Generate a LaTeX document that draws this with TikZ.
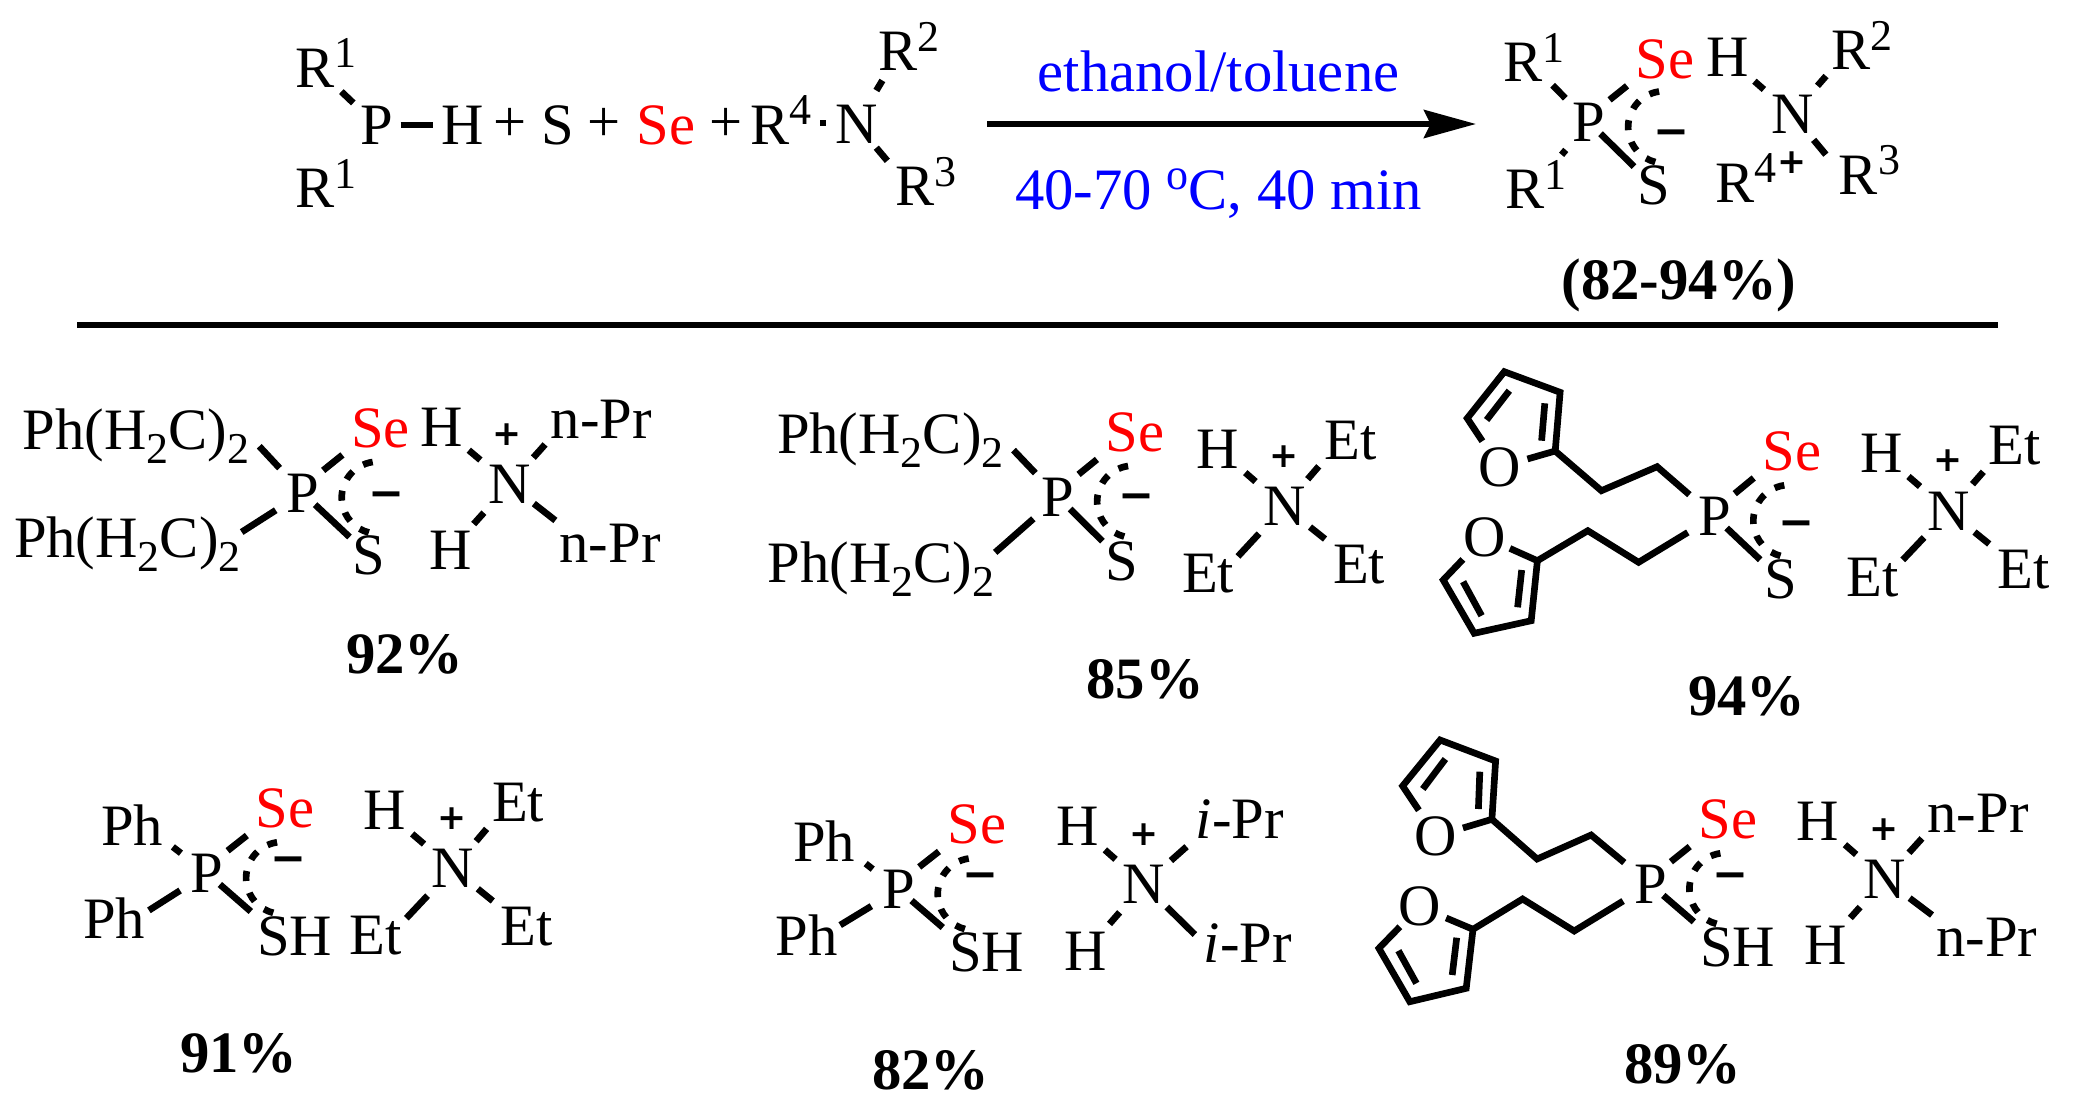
\documentclass[tikz,border=0pt]{standalone}
\usepackage{fontspec}
\setmainfont{Liberation Serif}
\newfontfamily\chgfont{DejaVu Sans}
\newfontfamily\minusfont{Noto Sans}
\usetikzlibrary{arrows.meta}

\newcommand{\upidx}[1]{\raisebox{14.5pt}{\fontsize{33}{33}\selectfont #1}}
\newcommand{\lowidx}[1]{\raisebox{-10.5pt}{\fontsize{33}{33}\selectfont #1}}
\newcommand{\chaina}{Ph(H\lowidx{2}C)\lowidx{2}}

\tikzset{
    atom/.style={inner sep=0pt, font=\fontsize{44}{44}\selectfont},
    selen/.style={atom, text=red},
    cond/.style={atom, text=blue, anchor=base},
    yieldlbl/.style={inner sep=0pt, font=\fontsize{44}{44}\selectfont\bfseries},
    chplus/.style={inner sep=0pt, font=\chgfont\bfseries\fontsize{26}{26}\selectfont},
    chminus/.style={inner sep=0pt, anchor=base, font=\minusfont\bfseries\fontsize{48}{48}\selectfont},
    bond/.style 2 args={line width=5pt, line join=miter, shorten <=#1*0.75pt, shorten >=#2*0.75pt},
    dblin/.style={line width=5pt},
    delo/.style={line width=5pt, dash pattern=on 7.5pt off 9.2pt},
    deloarc/.style={start angle=-98, end angle=-256, radius=36},
    rxn/.style={line width=4.5pt, -{Stealth[length=39pt,width=21pt,inset=5pt]}},
    sepline/.style={line width=4.5pt}
}

\begin{document}
\begin{tikzpicture}[x=0.75pt,y=0.75pt,yscale=-1,xscale=1]
    \useasboundingbox (0,0) rectangle (2078,1111);

    % Reactants
    \node [atom] (Raa) at (326.1,63) {R\upidx{1}};
    \node [atom] (Rab) at (326.1,183.5) {R\upidx{1}};
    \node [atom] (Pr) at (376.5,125) {P};
    \node [atom] (Hr) at (463,125) {H};
    \node [atom] (plusa) at (509.8,125) {+};
    \node [atom] (Sr) at (558.1,125) {S};
    \node [atom] (plusb) at (604.5,125) {+};
    \node [selen] (Ser) at (666.2,125) {Se};
    \node [atom] (plusc) at (726,125) {+};
    \node [atom] (Rfr) at (780.8,120) {R\upidx{4}};
    \node [fill=black, inner sep=0pt, minimum size=4.5pt] (dotr) at (822.7,123) {};
    \node [atom] (Nr) at (856.3,124) {N};
    \node [atom] (Rtr) at (908.6,46.5) {R\upidx{2}};
    \node [atom] (Rcr) at (925.9,181.2) {R\upidx{3}};
    %Straight Lines
    \draw [bond={6}{32}] (Raa.-66) -- (Pr.center);
    \draw [bond={24}{30}] (Pr.center) -- (Hr.center);
    \draw [bond={39}{11}] (Nr.center) -- (Rtr.-130);
    \draw [bond={31}{12}] (Nr.center) -- (Rcr.160);

    % Reaction arrow
    \coordinate (arrowL) at (987,124);
    \coordinate (arrowR) at (1476,124);
    \draw [rxn] (arrowL) -- (arrowR);
    \node [cond] (solvent) at (1218.5,91) {ethanol/toluene};
    \node [cond] (temp) at (1218.5,209) {40-70 \upidx{o}C, 40 min};

    % Product
    \node [atom] (Raz) at (1533.9,57.2) {R\upidx{1}};
    \node [atom] (Rbz) at (1536.3,184.5) {R\upidx{1}};
    \node [atom] (Pz) at (1589.1,122.5) {P};
    \node [selen] (Sez) at (1665.2,59) {Se};
    \node [atom] (Sz) at (1653.3,185.5) {S};
    \node [chminus] (minz) at (1671.1,149) {\textendash};
    \node [atom] (Hz) at (1727.3,57.5) {H};
    \node [atom] (Nz) at (1792.5,114.5) {N};
    \node [atom] (Rtz) at (1862.1,45.5) {R\upidx{2}};
    \node [atom] (Rcz) at (1869.5,170) {R\upidx{3}};
    \node [atom] (Rfz) at (1746.1,178) {R\upidx{4}};
    \node [chplus] (plusz) at (1792.5,163) {+};
    \node [yieldlbl] (yieldz) at (1679,285) {(82-94\%)};
    %Straight Lines
    \draw [bond={5}{34}] (Raz.-58) -- (Pz.center);
    \draw [bond={36}{39}] (Pz.center) -- (Rbz.center);
    \draw [bond={5}{11}] (Pz.north east) -- (Sez.south west);
    \draw [bond={16}{27}] (Pz.center) -- (Sz.center);
    \draw [delo] ([shift={(70,-31)}]Pz.center) arc [deloarc];
    \draw [bond={36}{38}] (Hz.center) -- (Nz.center);
    \draw [bond={38}{8}] (Nz.center) -- (Rtz.south west);
    \draw [bond={33}{20}] (Nz.center) -- (Rcz.west);

    % Separator
    \coordinate (ruleL) at (77,325);
    \coordinate (ruleR) at (1998,325);
    \draw [sepline] (ruleL) -- (ruleR);

    % 92%
    \node [atom] (Lab) at (136.2,436) {\chaina};
    \node [atom] (Lbb) at (127.3,544.5) {\chaina};
    \node [atom] (Pb) at (302.7,493) {P};
    \node [selen] (Seb) at (380.6,428) {Se};
    \node [atom] (Sb) at (369.2,555.5) {S};
    \node [chminus] (minb) at (386,511) {\textendash};
    \node [atom] (Hab) at (441.3,427) {H};
    \node [atom] (Hbb) at (450.2,550) {H};
    \node [chplus] (plusb2) at (507.4,435) {+};
    \node [atom] (Nb) at (509.4,484.5) {N};
    \node [atom] (Tab) at (601.2,419) {n-Pr};
    \node [atom] (Tbb) at (610.1,543) {n-Pr};
    \node [yieldlbl] (yieldb) at (404.8,654) {92\%};
    %Straight Lines
    \draw [bond={14}{34}] (Lab.east) -- (Pb.center);
    \draw [bond={1}{32}] (Lbb.6) -- (Pb.center);
    \draw [bond={5}{11}] (Pb.north east) -- (Seb.south west);
    \draw [bond={17}{27}] (Pb.center) -- (Sb.center);
    \draw [delo] ([shift={(70,-31)}]Pb.center) arc [deloarc];
    \draw [bond={36}{38}] (Hab.center) -- (Nb.center);
    \draw [bond={36}{8}] (Nb.center) -- (Tab.south west);
    \draw [bond={38}{35}] (Nb.center) -- (Hbb.center);
    \draw [bond={31}{5}] (Nb.center) -- (Tbb.north west);

    % 85%
    \node [atom] (Lac) at (890.3,440) {\chaina};
    \node [atom] (Lbc) at (880.9,569) {\chaina};
    \node [atom] (Pc) at (1058.1,497) {P};
    \node [selen] (Sec) at (1135.1,432.5) {Se};
    \node [atom] (Sc) at (1122.3,561) {S};
    \node [chminus] (minc) at (1136.6,513) {\textendash};
    \node [atom] (Hc) at (1218.1,449) {H};
    \node [chplus] (plusc2) at (1283.7,457) {+};
    \node [atom] (Nc) at (1284.2,506.5) {N};
    \node [atom] (Eac) at (1350.3,440.5) {Et};
    \node [atom] (Ebc) at (1208.2,573.5) {Et};
    \node [atom] (Ecc) at (1359.2,565) {Et};
    \node [yieldlbl] (yieldc) at (1145,679) {85\%};
    %Straight Lines
    \draw [bond={14}{33}] (Lac.east) -- (Pc.center);
    \draw [bond={1}{33}] (Lbc.8) -- (Pc.center);
    \draw [bond={5}{11}] (Pc.north east) -- (Sec.south west);
    \draw [bond={17}{28}] (Pc.center) -- (Sc.center);
    \draw [delo] ([shift={(70,-31)}]Pc.center) arc [deloarc];
    \draw [bond={36}{38}] (Hc.center) -- (Nc.center);
    \draw [bond={36}{8}] (Nc.center) -- (Eac.south west);
    \draw [bond={37}{5}] (Nc.center) -- (Ebc.27);
    \draw [bond={33}{10}] (Nc.center) -- (Ecc.north west);

    % 94%
    \node [atom] (Oad) at (1499.6,467) {O};
    \node [atom] (Obd) at (1484.3,537) {O};
    \node [atom] (Pd) at (1714.3,516.3) {P};
    \node [selen] (Sed) at (1791.8,451) {Se};
    \node [atom] (Sd) at (1780.5,579) {S};
    \node [chminus] (mind) at (1796.3,540) {\textendash};
    \node [atom] (Hd) at (1881.2,453) {H};
    \node [chplus] (plusd) at (1948.3,461) {+};
    \node [atom] (Nd) at (1948.8,511.3) {N};
    \node [atom] (Ead) at (2014.9,446) {Et};
    \node [atom] (Ebd) at (1872.3,577.7) {Et};
    \node [atom] (Ecd) at (2023.3,570) {Et};
    \node [yieldlbl] (yieldd) at (1746.9,696) {94\%};
    \coordinate (Cad) at (1555.2,451);
    \coordinate (Cbd) at (1537.4,560.7);
    %Shape: furan rings
    \draw [bond={31}{29}] (Oad.center) -- (1467.2,418.3) -- (1504.3,371.7) -- (1560.1,392.3) -- (Cad) -- (Oad.center);
    \draw [dblin] (1541.6,440.7) -- (1544.8,403.3);
    \draw [dblin] (1486.6,420) -- (1509.3,390.7);
    \draw [bond={31}{28}] (Obd.center) -- (1443.2,580) -- (1474.2,633.3) -- (1531.2,620.7) -- (Cbd) -- (Obd.center);
    \draw [dblin] (1521.7,570) -- (1517.6,607.3);
    \draw [dblin] (1463.1,581.7) -- (1481.6,615.7);
    %Straight Lines
    \draw [bond={0}{33}] (Cad) -- (1601.4,490.7) -- (1657.1,466.7) -- (Pd.center);
    \draw [bond={0}{31}] (Cbd) -- (1587.8,530.7) -- (1638.6,562.3) -- (Pd.center);
    \draw [bond={5}{11}] (Pd.north east) -- (Sed.south west);
    \draw [bond={17}{28}] (Pd.center) -- (Sd.center);
    \draw [delo] ([shift={(70,-31)}]Pd.center) arc [deloarc];
    \draw [bond={36}{38}] (Hd.center) -- (Nd.center);
    \draw [bond={36}{8}] (Nd.center) -- (Ead.south west);
    \draw [bond={36}{6}] (Nd.center) -- (Ebd.27);
    \draw [bond={33}{10}] (Nd.center) -- (Ecd.north west);

    % 91%
    \node [atom] (Lae) at (132.1,825) {Ph};
    \node [atom] (Lbe) at (114.3,918) {Ph};
    \node [atom] (Pe) at (207.1,873.3) {P};
    \node [selen] (See) at (285.1,808.7) {Se};
    \node [atom] (She) at (294.6,936.7) {SH};
    \node [chminus] (mine) at (288,876) {\textendash};
    \node [atom] (He) at (384.8,810.5) {H};
    \node [chplus] (pluse) at (451.9,819) {+};
    \node [atom] (Ne) at (452.9,868.7) {N};
    \node [atom] (Eae) at (518.1,803) {Et};
    \node [atom] (Ebe) at (375.9,936) {Et};
    \node [atom] (Ece) at (526.9,927) {Et};
    \node [yieldlbl] (yielde) at (238.7,1053) {91\%};
    %Straight Lines
    \draw [bond={12}{33}] (Lae.-25) -- (Pe.center);
    \draw [bond={4}{32}] (Lbe.10) -- (Pe.center);
    \draw [bond={5}{11}] (Pe.north east) -- (See.south west);
    \draw [bond={17}{8}] (Pe.center) -- (She.north west);
    \draw [delo] ([shift={(70,-31)}]Pe.center) arc [deloarc];
    \draw [bond={36}{38}] (He.center) -- (Ne.center);
    \draw [bond={36}{8}] (Ne.center) -- (Eae.south west);
    \draw [bond={37}{6}] (Ne.center) -- (Ebe.27);
    \draw [bond={32}{10}] (Ne.center) -- (Ece.north west);

    % 82%
    \node [atom] (Laf) at (824.2,841) {Ph};
    \node [atom] (Lbf) at (806.4,935) {Ph};
    \node [atom] (Pf) at (898.7,889.5) {P};
    \node [selen] (Sef) at (977.2,824.7) {Se};
    \node [atom] (Shf) at (986.6,952.7) {SH};
    \node [chminus] (minf) at (980.1,892) {\textendash};
    \node [atom] (Haf) at (1077.9,826) {H};
    \node [atom] (Hbf) at (1085.8,951) {H};
    \node [chplus] (plusf) at (1144,834.7) {+};
    \node [atom] (Nf) at (1144,884.5) {N};
    \node [atom] (Taf) at (1239.8,819) {\textit{i}-Pr};
    \node [atom] (Tbf) at (1247.7,943) {\textit{i}-Pr};
    \node [yieldlbl] (yieldf) at (930.8,1070) {82\%};
    %Straight Lines
    \draw [bond={13}{33}] (Laf.-25) -- (Pf.center);
    \draw [bond={3}{32}] (Lbf.15) -- (Pf.center);
    \draw [bond={5}{11}] (Pf.north east) -- (Sef.south west);
    \draw [bond={17}{8}] (Pf.center) -- (Shf.north west);
    \draw [delo] ([shift={(70,-31)}]Pf.center) arc [deloarc];
    \draw [bond={36}{38}] (Haf.center) -- (Nf.center);
    \draw [bond={36}{12}] (Nf.center) -- (Taf.south west);
    \draw [bond={37}{36}] (Nf.center) -- (Hbf.center);
    \draw [bond={32}{12}] (Nf.center) -- (Tbf.west);

    % 89%
    \node [atom] (Oag) at (1436.1,836) {O};
    \node [atom] (Obg) at (1419.4,906.7) {O};
    \node [atom] (Pg) at (1650.4,884.3) {P};
    \node [selen] (Seg) at (1727.9,819.7) {Se};
    \node [atom] (Shg) at (1737.7,947) {SH};
    \node [chminus] (ming) at (1730.6,892) {\textendash};
    \node [atom] (Hag) at (1817.8,821) {H};
    \node [atom] (Hbg) at (1825.6,945.5) {H};
    \node [chplus] (plusg) at (1883.6,830) {+};
    \node [atom] (Ng) at (1884.8,879.5) {N};
    \node [atom] (Tag) at (1978.1,813) {n-Pr};
    \node [atom] (Tbg) at (1986.8,937.5) {n-Pr};
    \node [yieldlbl] (yieldg) at (1682.9,1064) {89\%};
    \coordinate (Cag) at (1491.9,819.3);
    \coordinate (Cbg) at (1473,929.3);
    %Shape: furan rings
    \draw [bond={31}{28}] (Oag.center) -- (1402.6,786) -- (1440.1,740) -- (1495.6,761) -- (Cag) -- (Oag.center);
    \draw [dblin] (1478.4,809) -- (1479.8,771.7);
    \draw [dblin] (1422.8,789) -- (1445.4,759);
    \draw [bond={28}{29}] (Obg.center) -- (1378.9,948.3) -- (1409.8,1001.7) -- (1466.2,988.3) -- (Cbg) -- (Obg.center);
    \draw [dblin] (1456.7,937.7) -- (1452.2,975);
    \draw [dblin] (1398.4,950.7) -- (1416.4,983.3);
    %Straight Lines
    \draw [bond={0}{34}] (Cag) -- (1537.1,859) -- (1591.1,835) -- (Pg.center);
    \draw [bond={0}{32}] (Cbg) -- (1522.6,899) -- (1574.2,931) -- (Pg.center);
    \draw [bond={5}{11}] (Pg.north east) -- (Seg.south west);
    \draw [bond={17}{8}] (Pg.center) -- (Shg.north west);
    \draw [delo] ([shift={(70,-31)}]Pg.center) arc [deloarc];
    \draw [bond={36}{38}] (Hag.center) -- (Ng.center);
    \draw [bond={36}{8}] (Ng.center) -- (Tag.south west);
    \draw [bond={37}{37}] (Ng.center) -- (Hbg.center);
    \draw [bond={31}{5}] (Ng.center) -- (Tbg.north west);

\end{tikzpicture}
\end{document}
